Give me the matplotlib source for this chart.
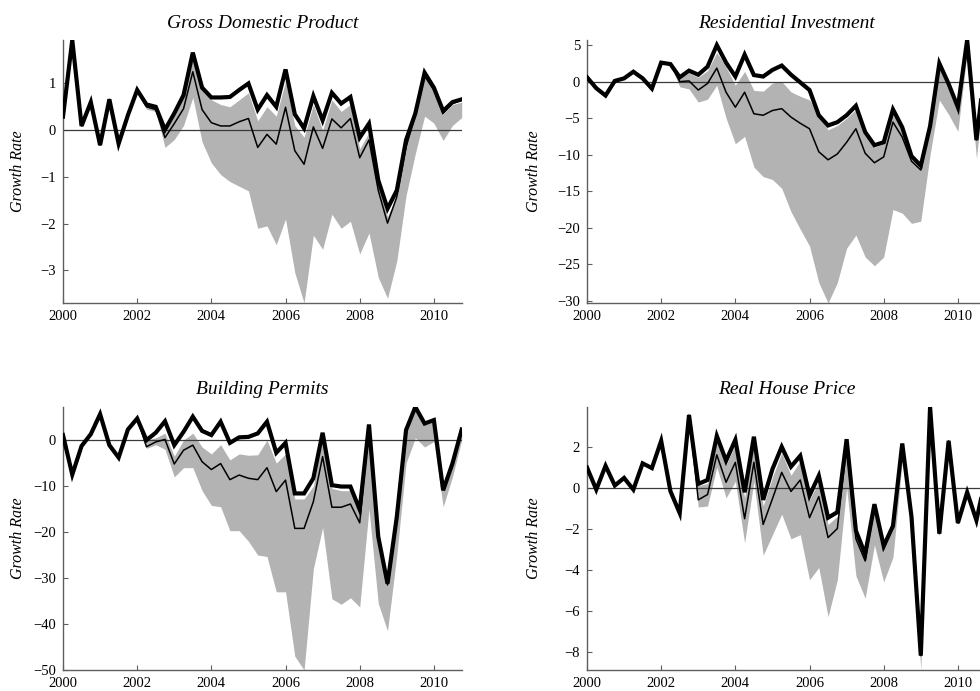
import numpy as np
import matplotlib
matplotlib.use("Agg")
import matplotlib.pyplot as plt

plt.rcParams['font.family'] = ['Liberation Serif', 'DejaVu Serif']
plt.rcParams['axes.unicode_minus'] = True

# quarterly dates 2000Q1 .. 2010Q4
years = list(range(2000, 2011))
quarters = [0.0, 0.25, 0.5, 0.75]

titles = ["Gross Domestic Product", "Residential Investment",
          "Building Permits", "Real House Price"]
ylabel = "Growth Rate"
xtick_vals = [2000, 2002, 2004, 2006, 2008, 2010]

# ---------------- Gross Domestic Product ----------------
gdp_actual = [0.29, 1.93, 0.09, 0.60, -0.32, 0.66, -0.29, 0.32,
              0.86, 0.55, 0.50, 0.01, 0.36, 0.75, 1.66, 0.91,
              0.70, 0.70, 0.71, 0.86, 1.00, 0.44, 0.75, 0.50,
              1.30, 0.34, 0.04, 0.73, 0.21, 0.80, 0.57, 0.71,
              -0.16, 0.14, -1.07, -1.68, -1.29, -0.21, 0.36, 1.23,
              0.91, 0.41, 0.60, 0.66]
gdp_cf = [0.29, 1.93, 0.09, 0.60, -0.32, 0.66, -0.29, 0.32,
          0.86, 0.50, 0.44, -0.16, 0.14, 0.46, 1.25, 0.44,
          0.16, 0.09, 0.09, 0.18, 0.25, -0.37, -0.09, -0.30,
          0.49, -0.44, -0.73, 0.07, -0.39, 0.24, 0.05, 0.25,
          -0.59, -0.21, -1.29, -1.99, -1.43, -0.36, 0.32, 1.16,
          0.86, 0.36, 0.57, 0.64]
gdp_upper = [0.29, 1.93, 0.09, 0.60, -0.32, 0.66, -0.29, 0.32,
             0.86, 0.52, 0.47, -0.05, 0.30, 0.70, 1.55, 0.85,
             0.65, 0.55, 0.50, 0.65, 0.80, 0.20, 0.50, 0.30,
             1.05, 0.10, -0.15, 0.55, 0.00, 0.65, 0.40, 0.55,
             -0.40, -0.05, -1.20, -1.85, -1.40, -0.30, 0.30, 1.15,
             0.85, 0.35, 0.55, 0.60]
gdp_lower = [0.29, 1.93, 0.09, 0.60, -0.32, 0.66, -0.29, 0.32,
             0.86, 0.45, 0.40, -0.37, -0.20, 0.10, 0.70, -0.25,
             -0.70, -0.95, -1.10, -1.20, -1.30, -2.10, -2.05, -2.45,
             -1.90, -3.05, -3.70, -2.25, -2.55, -1.80, -2.10, -1.95,
             -2.65, -2.20, -3.15, -3.60, -2.80, -1.40, -0.50, 0.30,
             0.15, -0.22, 0.10, 0.27]
gdp_yticks = [-3, -2, -1, 0, 1]

# ---------------- Residential Investment ----------------
ri_actual = [0.6, -0.9, -1.9, 0.1, 0.45, 1.36, 0.45, -0.95,
             2.6, 2.4, 0.6, 1.5, 0.95, 2.05, 5.0, 2.6,
             0.7, 3.7, 0.9, 0.7, 1.6, 2.2, 0.95, -0.1,
             -1.15, -4.6, -6.0, -5.55, -4.6, -3.3, -6.9, -8.7,
             -8.3, -3.8, -6.25, -10.2, -11.5, -6.1, 2.5, -0.3,
             -3.5, 5.7, -8.0, 3.0]
ri_cf = [0.6, -0.9, -1.9, 0.1, 0.45, 1.36, 0.45, -0.95,
         2.6, 2.4, 0.0, 0.1, -1.15, -0.25, 1.85, -1.45,
         -3.5, -1.45, -4.4, -4.6, -3.95, -3.7, -4.85, -5.7,
         -6.45, -9.6, -10.7, -9.9, -8.3, -6.45, -9.8, -11.1,
         -10.3, -5.55, -7.6, -10.9, -12.1, -6.1, 2.5, -0.3,
         -3.5, 5.7, -8.0, 3.0]
ri_upper = [0.6, -0.9, -1.9, 0.1, 0.45, 1.36, 0.45, -0.95,
            2.6, 2.4, 0.5, 1.2, 0.6, 1.5, 4.0, 2.0,
            -0.5, 1.4, -1.2, -1.3, -0.2, 0.0, -1.4, -2.0,
            -2.5, -4.5, -6.6, -6.0, -5.0, -3.8, -7.2, -9.0,
            -8.5, -4.2, -6.6, -10.3, -11.7, -6.0, 2.0, -0.8,
            -3.7, 5.5, -8.2, 2.8]
ri_lower = [0.6, -0.9, -1.9, 0.1, 0.45, 1.36, 0.45, -0.95,
            2.6, 2.4, -0.7, -1.0, -2.8, -2.4, -0.5, -5.0,
            -8.5, -7.5, -11.7, -13.0, -13.4, -14.6, -17.8, -20.2,
            -22.5, -27.5, -30.3, -27.5, -22.8, -21.0, -24.0, -25.2,
            -24.0, -17.5, -18.0, -19.4, -19.1, -10.0, -2.5, -4.5,
            -6.8, 4.0, -10.5, 1.0]
ri_yticks = [-30, -25, -20, -15, -10, -5, 0, 5]

# ---------------- Building Permits ----------------
bp_actual = [1.1, -7.5, -1.3, 1.3, 5.65, -1.1, -3.8, 2.3,
             4.7, 0.0, 1.6, 4.1, -1.1, 1.8, 5.1, 2.0,
             1.1, 4.0, -0.6, 0.6, 0.7, 1.45, 4.0, -2.75,
             -0.6, -11.6, -11.6, -8.3, 1.6, -9.8, -10.1, -10.1,
             -15.1, 3.4, -21.0, -31.2, -16.7, 2.2, 7.2, 3.6,
             4.35, -10.9, -5.1, 2.3]
bp_cf = [1.1, -7.5, -1.3, 1.3, 5.65, -1.1, -3.8, 2.3,
         4.7, -1.45, -0.4, 0.15, -5.2, -2.2, -1.1, -4.7,
         -6.4, -5.1, -8.6, -7.6, -8.3, -8.6, -6.0, -11.2,
         -8.7, -19.2, -19.2, -13.4, -3.6, -14.6, -14.6, -13.9,
         -18.0, 3.0, -21.5, -31.5, -16.7, 2.2, 7.2, 3.6,
         4.35, -10.9, -5.1, 2.3]
bp_upper = [1.1, -7.5, -1.3, 1.3, 5.65, -1.1, -3.8, 2.3,
            4.7, 0.0, 0.5, 1.5, -3.5, 0.0, 1.5, -1.5,
            -3.0, -1.0, -4.3, -3.0, -3.3, -3.2, 0.0, -5.0,
            -3.0, -12.8, -12.8, -10.0, 0.5, -10.5, -11.0, -11.0,
            -16.0, 3.0, -21.5, -30.5, -16.0, 1.8, 6.5, 3.3,
            4.0, -11.0, -5.5, 2.0]
bp_lower = [1.1, -7.5, -1.3, 1.3, 5.65, -1.1, -3.8, 2.3,
            4.7, -1.8, -1.0, -2.0, -8.0, -6.0, -6.0, -11.0,
            -14.2, -14.5, -19.7, -19.7, -22.0, -25.0, -25.3, -33.0,
            -33.0, -47.0, -50.0, -28.0, -19.0, -34.5, -35.7, -34.3,
            -36.3, -15.0, -35.5, -41.5, -25.0, -5.0, 0.5, -1.5,
            -0.3, -14.5, -8.0, 0.0]
bp_yticks = [-50, -40, -30, -20, -10, 0]

# ---------------- Real House Price ----------------
rhp_actual = [0.98, -0.10, 1.06, 0.10, 0.47, -0.10, 1.18, 0.95,
              2.28, -0.18, -1.25, 3.54, 0.18, 0.37, 2.52, 1.31,
              2.33, -0.23, 2.48, -0.60, 0.90, 1.99, 1.02, 1.55,
              -0.39, 0.58, -1.47, -1.20, 2.36, -2.10, -3.25, -0.81,
              -2.85, -1.87, 2.15, -1.44, -8.20, 3.93, -2.25, 2.28,
              -1.73, -0.23, -1.60, 0.50]
rhp_cf = [0.98, -0.10, 1.06, 0.10, 0.47, -0.10, 1.18, 0.95,
          2.28, -0.18, -1.25, 3.54, -0.60, -0.34, 1.60, 0.26,
          1.23, -1.52, 1.23, -1.80, -0.55, 0.74, -0.19, 0.37,
          -1.47, -0.44, -2.44, -2.00, 2.04, -2.50, -3.58, -0.95,
          -3.00, -1.90, 2.10, -1.44, -8.20, 3.93, -2.25, 2.28,
          -1.73, -0.23, -1.60, 0.50]
rhp_upper = [0.98, -0.10, 1.06, 0.10, 0.47, -0.10, 1.18, 0.95,
             2.28, -0.18, -1.25, 3.54, 0.10, 0.20, 2.30, 1.10,
             2.10, -0.50, 2.20, -0.90, 0.50, 1.70, 0.60, 1.30,
             -0.60, 0.30, -1.80, -1.40, 2.20, -2.20, -3.40, -0.90,
             -2.70, -1.90, 2.10, -1.40, -8.10, 3.90, -2.20, 2.20,
             -1.70, -0.25, -1.60, 0.50]
rhp_lower = [0.98, -0.10, 1.06, 0.10, 0.47, -0.10, 1.18, 0.95,
             2.28, -0.18, -1.25, 3.54, -0.95, -0.90, 1.00, -0.50,
             0.30, -2.70, 0.30, -3.30, -2.30, -1.30, -2.50, -2.30,
             -4.50, -3.90, -6.30, -4.50, 0.00, -4.30, -5.40, -2.80,
             -4.60, -3.40, 1.30, -1.60, -8.90, 3.50, -2.40, 2.00,
             -1.80, -0.30, -1.70, 0.40]
rhp_yticks = [-8, -6, -4, -2, 0, 2]

dates = np.array([y + q for y in years for q in quarters])

panels = [
    (titles[0], gdp_actual, gdp_cf, gdp_upper, gdp_lower, gdp_yticks),
    (titles[1], ri_actual, ri_cf, ri_upper, ri_lower, ri_yticks),
    (titles[2], bp_actual, bp_cf, bp_upper, bp_lower, bp_yticks),
    (titles[3], rhp_actual, rhp_cf, rhp_upper, rhp_lower, rhp_yticks),
]

W, H = 980, 691
fig = plt.figure(figsize=(W / 100, H / 100), dpi=100)
ax_w = 398.7 / W
ax_h = 263 / H
lefts = [63 / W, 587 / W]
bottoms = [(H - 303) / H, (H - 670) / H]
label_x = [-0.093, -0.113]

spine_col = '#5f5f5f'
for i, (title, act, cf, up, lo, yt) in enumerate(panels):
    r, c = divmod(i, 2)
    ax = fig.add_axes([lefts[c], bottoms[r], ax_w, ax_h])
    act = np.array(act); cf = np.array(cf)
    up = np.array(up); lo = np.array(lo)
    ax.fill_between(dates, lo, up, color='#b3b3b3', linewidth=0, zorder=1)
    ax.axhline(0, color='#3a3a3a', lw=0.9, zorder=2)
    ax.plot(dates, cf, color='black', lw=1.1, zorder=3)
    ax.plot(dates, act, color='black', lw=3.0, zorder=4,
            solid_joinstyle='miter')
    ax.set_xlim(2000, 2010.75)
    ax.set_ylim(min(lo.min(), act.min()), max(act.max(), up.max()))
    ax.set_xticks(xtick_vals)
    ax.set_yticks(yt)
    for s in ['top', 'right']:
        ax.spines[s].set_visible(False)
    for s in ['left', 'bottom']:
        ax.spines[s].set_color(spine_col)
        ax.spines[s].set_linewidth(1.0)
    ax.tick_params(direction='in', length=3.5, width=0.8, color=spine_col,
                   labelsize=10.5, pad=5)
    ax.set_title(title, fontsize=14, style='italic', pad=9)
    ax.set_ylabel(ylabel, fontsize=11.5, style='italic')
    ax.yaxis.set_label_coords(label_x[c], 0.5)
    ax.patch.set_visible(False)

fig.savefig('out.png', dpi=100)
